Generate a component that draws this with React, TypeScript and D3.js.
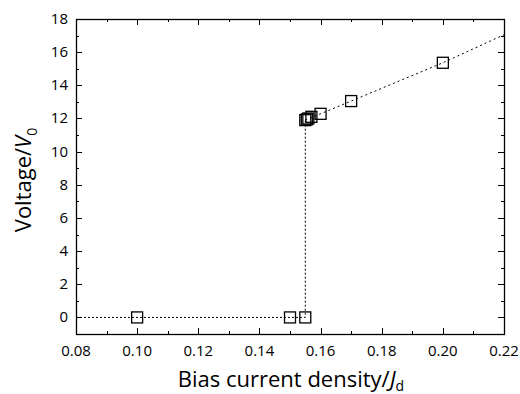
import React, { useEffect, useRef } from 'react';
import * as d3 from 'd3';

// measured points (bias current density, voltage)
const biasJ = [0.10, 0.15, 0.155, 0.155, 0.1555, 0.156, 0.157, 0.16, 0.17, 0.20];
const voltage = [0, 0, 0, 11.9, 11.95, 12.0, 12.1, 12.28, 13.05, 15.36];

// guide lines (dotted)
const lowerLineJ = [0.08, 0.155, 0.155];
const lowerLineV = [0, 0, 11.9];
const upperLineJ = [0.155, 0.17, 0.20, 0.22];
const upperLineV = [11.9, 13.05, 15.36, 17.05];

const xTicks = [0.08, 0.10, 0.12, 0.14, 0.16, 0.18, 0.20, 0.22];
const yTicks = [0, 2, 4, 6, 8, 10, 12, 14, 16, 18];

const W = 520, H = 394;
const m = { left: 76, right: 16, top: 19, bottom: 60 };
const FONT = "'Open Sans', 'Noto Sans', sans-serif";

const App = () => {
	const ref = useRef<SVGSVGElement>(null);

	useEffect(() => {
		const svg = d3.select(ref.current);
		svg.selectAll('*').remove();

		const x = d3.scaleLinear().domain([0.08, 0.22]).range([m.left, W - m.right]);
		const y = d3.scaleLinear().domain([-1, 18]).range([H - m.bottom, m.top]);
		const x0 = m.left, x1 = W - m.right, y0 = H - m.bottom, y1 = m.top;

		// minor tick values
		const xMinor = d3.range(0.09, 0.22, 0.02);
		const yMinor = d3.range(-1, 18, 2);

		const tickG = svg.append('g').attr('stroke', '#000').attr('stroke-width', 1);
		xTicks.forEach(t => {
			const px = Math.round(x(t)) + 0.5;
			tickG.append('line').attr('x1', px).attr('x2', px).attr('y1', y0).attr('y2', y0 - 6);
			tickG.append('line').attr('x1', px).attr('x2', px).attr('y1', y1).attr('y2', y1 + 6);
		});
		xMinor.forEach(t => {
			const px = Math.round(x(t)) + 0.5;
			tickG.append('line').attr('x1', px).attr('x2', px).attr('y1', y0).attr('y2', y0 - 3);
			tickG.append('line').attr('x1', px).attr('x2', px).attr('y1', y1).attr('y2', y1 + 3);
		});
		yTicks.forEach(t => {
			const py = Math.round(y(t)) + 0.5;
			tickG.append('line').attr('x1', x0).attr('x2', x0 + 6).attr('y1', py).attr('y2', py);
			tickG.append('line').attr('x1', x1).attr('x2', x1 - 6).attr('y1', py).attr('y2', py);
		});
		yMinor.forEach(t => {
			const py = Math.round(y(t)) + 0.5;
			tickG.append('line').attr('x1', x0).attr('x2', x0 + 3).attr('y1', py).attr('y2', py);
			tickG.append('line').attr('x1', x1).attr('x2', x1 - 3).attr('y1', py).attr('y2', py);
		});

		// frame
		svg.append('rect')
			.attr('x', x0 + 0.5).attr('y', y1 + 0.5)
			.attr('width', x1 - x0).attr('height', y0 - y1)
			.attr('fill', 'none').attr('stroke', '#000').attr('stroke-width', 1.3);

		// tick labels
		svg.append('g').selectAll('text').data(xTicks).enter().append('text')
			.attr('x', d => x(d)).attr('y', y0 + 22)
			.attr('text-anchor', 'middle')
			.style('font-family', FONT).style('font-size', '15px')
			.text(d => d.toFixed(2));
		svg.append('g').selectAll('text').data(yTicks).enter().append('text')
			.attr('x', x0 - 8).attr('y', d => y(d) + 5)
			.attr('text-anchor', 'end')
			.style('font-family', FONT).style('font-size', '15px')
			.text(d => d);

		// guide lines
		const line = d3.line<[number, number]>().x(d => x(d[0])).y(d => y(d[1]));
		svg.append('path')
			.datum(lowerLineJ.map((j, i) => [j, lowerLineV[i]] as [number, number]))
			.attr('fill', 'none').attr('stroke', '#000').attr('stroke-width', 1)
			.attr('stroke-dasharray', '2,2').attr('d', line);
		svg.append('path')
			.datum(upperLineJ.map((j, i) => [j, upperLineV[i]] as [number, number]))
			.attr('fill', 'none').attr('stroke', '#000').attr('stroke-width', 1)
			.attr('stroke-dasharray', '2,3').attr('d', line);

		// square markers
		const s = 11;
		svg.append('g').selectAll('rect').data(biasJ).enter().append('rect')
			.attr('x', d => x(d) - s / 2).attr('y', (d, i) => y(voltage[i]) - s / 2)
			.attr('width', s).attr('height', s)
			.attr('fill', 'none').attr('stroke', '#000').attr('stroke-width', 1.3);

		// axis titles
		const xt = svg.append('text')
			.attr('x', 291).attr('y', 387)
			.attr('text-anchor', 'middle')
			.style('font-family', FONT).style('font-size', '22px');
		xt.append('tspan').text('Bias current density/');
		xt.append('tspan').style('font-style', 'italic').text('J');
		xt.append('tspan').attr('dy', 4).style('font-size', '14px').text('d');

		const yt = svg.append('text')
			.attr('transform', `translate(31,180) rotate(-90)`)
			.attr('text-anchor', 'middle')
			.style('font-family', FONT).style('font-size', '22px');
		yt.append('tspan').text('Voltage/');
		yt.append('tspan').style('font-style', 'italic').text('V');
		yt.append('tspan').attr('dy', 6).style('font-size', '14px').text('0');
	}, []);

	return (
		<svg ref={ref} width={W} height={H}
			style={{ position: 'absolute', left: 0, top: 0, background: '#fff' }} />
	);
};

export default App;
